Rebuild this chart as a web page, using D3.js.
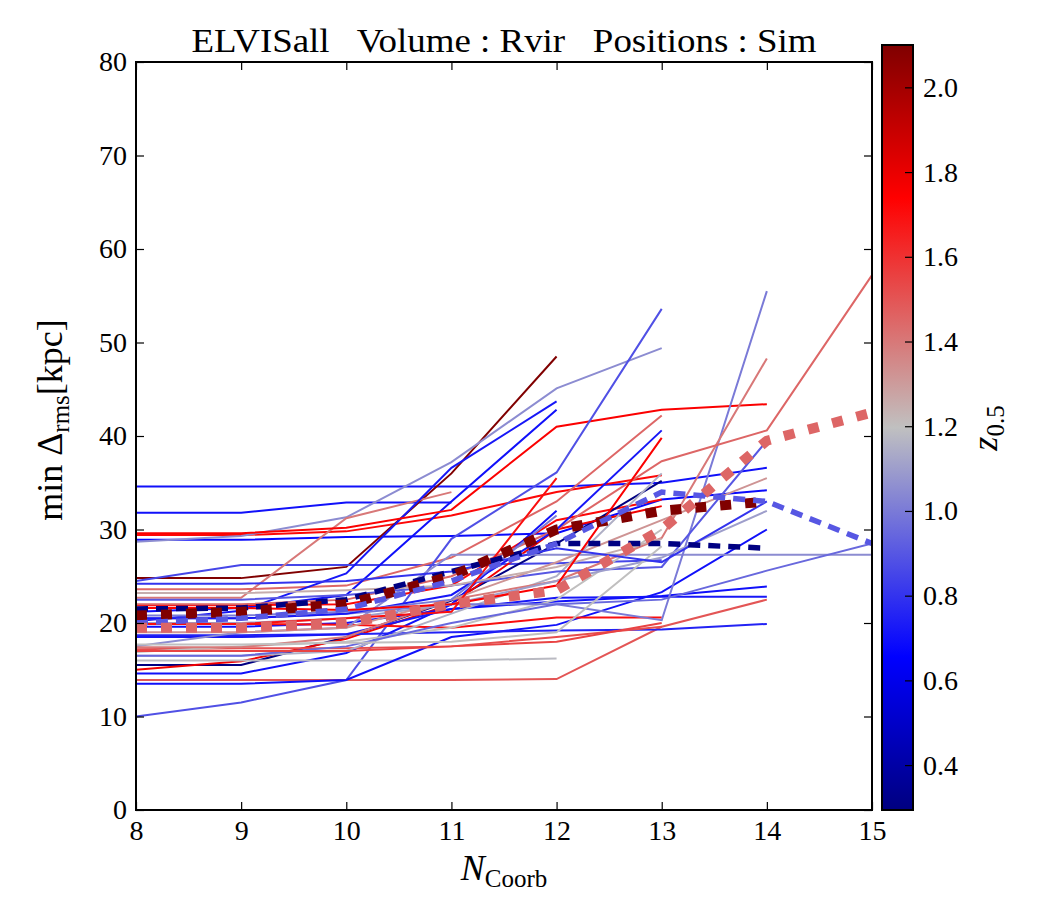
<!DOCTYPE html>
<html><head><meta charset="utf-8">
<script src="https://cdn.jsdelivr.net/npm/d3@7"></script>
<style>body{margin:0;background:#fff}svg{display:block}svg text{font-family:"Liberation Serif","Times New Roman",serif !important;fill:#000}</style>
</head><body><svg id="c" width="1050" height="900"></svg>
<script>
const xTicks=[8,9,10,11,12,13,14,15];
const yTicks=[0,10,20,30,40,50,60,70,80];
const cTicks=[0.4,0.6,0.8,1.0,1.2,1.4,1.6,1.8,2.0];
const zDomain=[0.294,2.10];
// thin lines: z value and min Delta values starting at N=8
const lineZ=[0.70,0.70,1.72,0.68,2.10,0.85,1.05,1.40,1.45,0.72,0.70,1.75,1.72,0.30,1.78,0.70,0.88,1.50,1.18,0.70,0.75,0.72,0.70,1.70,1.52,1.20,1.15,1.05,1.00,1.40,1.45,0.90,0.72,0.95,1.10,1.32,1.25,1.00,1.75,1.55,1.70,1.20,0.80];
const lineVals=[
[34.6,34.6,34.6,34.6,34.6,35.0,36.6],
[31.8,31.8,32.9,32.9],
[29.4,29.4,29.8,31.5,34.0,35.8],
[28.9,28.9,29.2,29.3,29.6,33.2,34.2],
[24.8,24.8,26.0,36.0,48.5],
[24.5,26.2,26.2,26.2,26.4,26.7],
[28.7,29.3,31.3,37.2,45.1,49.4],
[22.7,22.7,31.2,34.0],
[23.6,23.6,24.0,27.0,33.0,42.2],
[20.2,21.3,25.3,36.6,43.7],
[21.2,21.6,23.0,33.0,42.8],
[29.6,29.6,30.2,32.1,41.0,42.8,43.4],
[21.9,21.9,22.0,24.0,31.0,33.2],
[15.5,15.5,18.5,22.4,28.5,35.2],
[15.0,15.9,18.3,22.0,30.0,32.5],
[14.6,14.6,16.8,22.0,32.0],
[10.0,11.5,13.9,29.0,36.1,53.6],
[13.9,13.9,13.9,13.9,14.0,19.6,22.5],
[16.0,16.0,16.0,16.0,16.2],
[13.5,13.5,13.9,18.5,19.8,23.3,30.0],
[18.7,18.7,18.8,19.0,19.2,19.3,19.9],
[18.5,18.5,18.8,21.5,22.7,22.8,22.8],
[19.6,19.6,20.0,21.5,22.3,22.9,23.9],
[19.9,19.9,19.8,19.5,20.6,20.6],
[17.2,17.3,17.3,17.5,18.5,19.6],
[16.9,17.5,18.0,19.5,22.5,30.0],
[16.5,16.5,17.0,21.0,25.0,36.0],
[17.5,19.0,19.5,27.3,27.3,27.3,27.3,27.3],
[20.5,20.5,21.0,22.0,22.0,20.3,55.5],
[17.4,17.4,18.5,22.5,24.5,29.1,48.3],
[22.0,22.0,22.5,25.0,30.0,37.3,40.6,57.2],
[22.5,22.5,23.0,24.0,25.5,26.0,39.5],
[20.5,20.5,21.0,23.0,30.0,40.6],
[16.5,16.5,17.5,20.0,22.0,22.5,25.6,28.5],
[20.0,20.0,20.5,22.0,24.5,27.0,32.0],
[19.0,19.0,19.5,22.5,26.5,31.0,35.5],
[23.2,23.2,23.5,24.0,26.0,29.0],
[20.8,20.8,21.2,22.5,31.5],
[21.6,21.6,21.4,22.0,24.0,39.8],
[17.0,17.0,17.0,17.5,18.0,20.0],
[19.9,19.9,20.5,21.2,35.5],
[17.7,17.7,17.9,18.0,19.0,28.2],
[24.2,24.2,24.5,25.5,28.0,26.5,33.0]
];
// median lines
const medZ=[0.30,2.10,0.90,1.45];
const medStyle=["dash","dot","dash","dot"];
const medVals=[
[21.5,21.6,22.5,25.5,28.5,28.5,28.0],
[20.8,21.2,22.0,25.0,30.0,32.0,33.0],
[20.0,20.5,21.5,24.5,28.5,34.0,33.0,28.5],
[19.5,19.5,20.0,22.0,23.5,30.0,39.5,42.5]
];

const svg=d3.select("#c");
const L=136,R=872,T=62,B=810;
const x=d3.scaleLinear().domain([8,15]).range([L,R]);
const y=d3.scaleLinear().domain([0,80]).range([B,T]);
const cmap=d3.scaleLinear().domain([0,0.2,0.5,0.8,1]).range(["#000080","#0000ff","#c0c0c0","#ff0000","#800000"]).interpolate(d3.interpolateRgb);
const norm=d3.scaleLinear().domain(zDomain).range([0,1]).clamp(true);
const col=z=>cmap(norm(z));

svg.append("defs").append("clipPath").attr("id","pc").append("rect").attr("x",L).attr("y",T).attr("width",R-L).attr("height",B-T);
const g=svg.append("g").attr("clip-path","url(#pc)");
const line=d3.line().x((d,i)=>x(8+i)).y(d=>y(d));
lineVals.forEach((v,i)=>{
  g.append("path").attr("d",line(v)).attr("fill","none").attr("stroke",col(lineZ[i])).attr("stroke-width",2);
});
medVals.forEach((v,i)=>{
  const p=g.append("path").attr("d",line(v)).attr("fill","none").attr("stroke",col(medZ[i]));
  if(medStyle[i]==="dash") p.attr("stroke-width",5.5).attr("stroke-dasharray","12,8");
  else p.attr("stroke-width",10).attr("stroke-dasharray","11,14");
});

// axes
const fs=28;
svg.append("g").attr("transform",`translate(${L},0)`).call(d3.axisLeft(y).tickValues(yTicks).tickSize(-8).tickPadding(9).tickFormat(d3.format("d")));
svg.append("g").attr("transform",`translate(0,${B})`).call(d3.axisBottom(x).tickValues(xTicks).tickSize(-8).tickPadding(10).tickFormat(d3.format("d")));
svg.append("g").attr("transform",`translate(${R},0)`).call(d3.axisRight(y).tickValues(yTicks).tickSize(-8).tickFormat(""));
svg.append("g").attr("transform",`translate(0,${T})`).call(d3.axisTop(x).tickValues(xTicks).tickSize(-8).tickFormat(""));
svg.selectAll(".domain").remove();
svg.selectAll(".tick line").attr("stroke","#000").attr("stroke-width",1.2);
svg.selectAll(".tick text").attr("font-size",fs);
svg.append("rect").attr("x",L).attr("y",T).attr("width",R-L).attr("height",B-T).attr("fill","none").attr("stroke","#000").attr("stroke-width",2);

// title
svg.append("text").attr("x",(L+R)/2).attr("y",52).attr("text-anchor","middle").attr("font-size",33)
  .attr("textLength",625).attr("lengthAdjust","spacingAndGlyphs")
  .attr("xml:space","preserve").text("ELVISall   Volume : Rvir   Positions : Sim");
// x label
const xl=svg.append("text").attr("x",(L+R)/2).attr("y",880).attr("text-anchor","middle").attr("font-size",36);
xl.append("tspan").attr("font-style","italic").text("N");
xl.append("tspan").attr("font-size",25).attr("dy",7).text("Coorb");
// y label
const yl=svg.append("text").attr("transform","translate(62,420) rotate(-90)").attr("text-anchor","middle").attr("font-size",36);
yl.append("tspan").text("min Δ");
yl.append("tspan").attr("font-size",25).attr("dy",7).text("rms");
yl.append("tspan").attr("dy",-7).text("[kpc]");

// colorbar
const cx0=882,cx1=913,cT=45,cB=810;
const cs=d3.scaleLinear().domain(zDomain).range([cB,cT]);
const grad=svg.select("defs").append("linearGradient").attr("id","cg").attr("x1",0).attr("y1",1).attr("x2",0).attr("y2",0);
d3.range(0,1.0001,0.05).forEach(t=>grad.append("stop").attr("offset",t).attr("stop-color",cmap(t)));
svg.append("rect").attr("x",cx0).attr("y",cT).attr("width",cx1-cx0).attr("height",cB-cT).attr("fill","url(#cg)").attr("stroke","#000").attr("stroke-width",2);
const cax=svg.append("g").attr("transform",`translate(${cx1},0)`).call(d3.axisRight(cs).tickValues(cTicks).tickSize(-8).tickPadding(10).tickFormat(d3.format(".1f")));
cax.select(".domain").remove();
cax.selectAll(".tick line").attr("stroke","#000").attr("stroke-width",1.2);
cax.selectAll(".tick text").attr("font-size",fs);
const cl=svg.append("text").attr("transform","translate(997,428) rotate(-90)").attr("text-anchor","middle").attr("font-size",36);
cl.append("tspan").attr("font-style","italic").text("z");
cl.append("tspan").attr("font-size",25).attr("dy",7).text("0.5");
</script></body></html>
